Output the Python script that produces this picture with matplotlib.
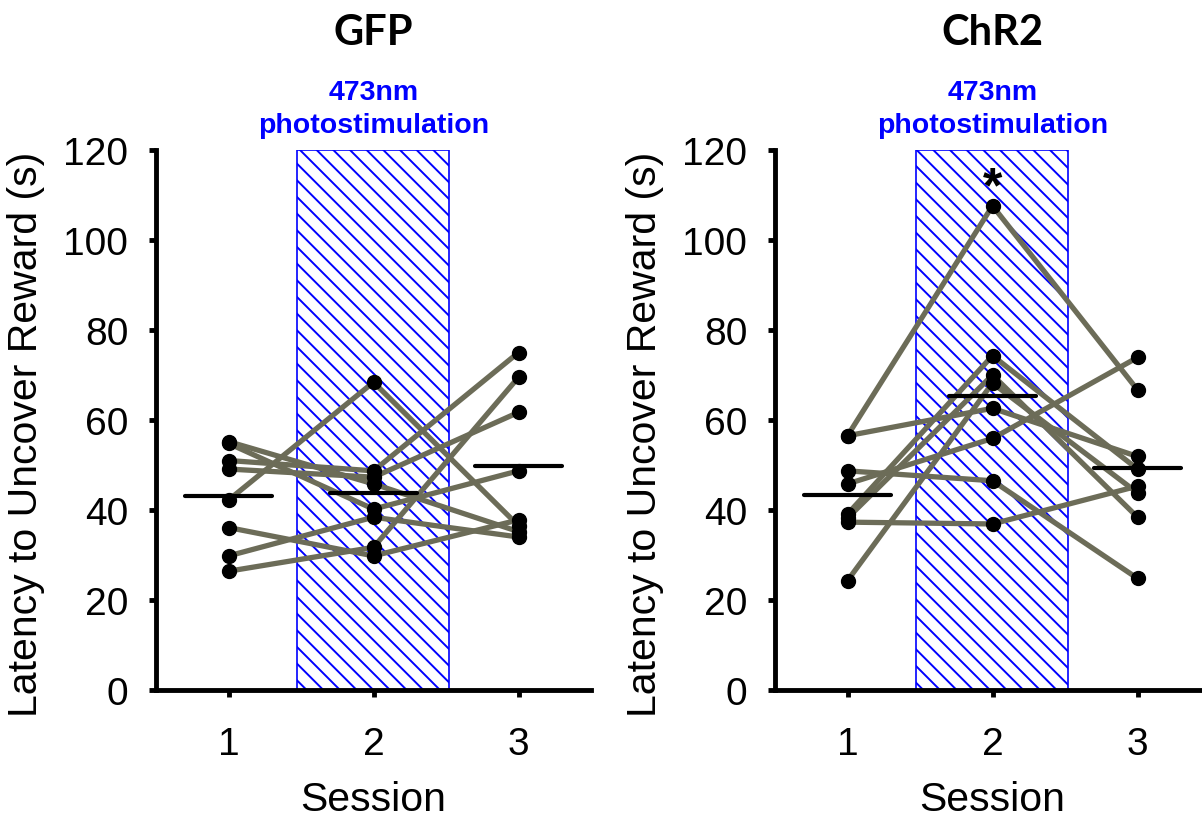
import numpy as np
import matplotlib
matplotlib.use("Agg")
import matplotlib.pyplot as plt

plt.rcParams['font.family'] = ['Liberation Sans', 'DejaVu Sans']
plt.rcParams['hatch.linewidth'] = 1.4

sessions = [1, 2, 3]
session_labels = ["1", "2", "3"]
yticks = [0, 20, 40, 60, 80, 100, 120]

# GFP group: one row per subject, sessions 1..3
gfp_s1 = [42.2, 55.2, 51.0, 49.1, 36.1, 29.8, 26.4, 54.8]
gfp_s2 = [68.4, 45.8, 48.7, 47.3, 29.8, 38.4, 31.7, 40.2]
gfp_s3 = [36.5, 35.2, 75.0, 61.7, 37.8, 34.0, 69.5, 48.7]

# ChR2 group
chr2_s1 = [56.5, 56.5, 48.7, 45.8, 39.1, 38.2, 37.3, 24.3]
chr2_s2 = [107.6, 62.6, 46.5, 55.9, 74.3, 70.0, 36.9, 68.2]
chr2_s3 = [66.7, 51.9, 24.8, 73.9, 49.1, 38.4, 45.3, 43.8]

titles = ["GFP", "ChR2"]
stim_text = ["473nm", "photostimulation"]
ylabel = "Latency to Uncover Reward (s)"
xlabel = "Session"

W, H = 1202, 820
fig = plt.figure(figsize=(W / 100, H / 100), dpi=100)

line_col = "#6c6c58"
groups = [(gfp_s1, gfp_s2, gfp_s3), (chr2_s1, chr2_s2, chr2_s3)]
lefts = [156, 775]

for gi, (s1, s2, s3) in enumerate(groups):
    left = lefts[gi]
    ax = fig.add_axes([left / W, 1 - 691 / H, 435 / W, 540 / H])
    ax.set_xlim(0.5, 3.5)
    ax.set_ylim(0, 120)
    for sp in ['top', 'right']:
        ax.spines[sp].set_visible(False)
    for sp in ['left', 'bottom']:
        ax.spines[sp].set_linewidth(3.5)
    ax.spines['bottom'].set_zorder(1)

    # photostimulation box
    ax.axvspan(1.47, 2.52, ymin=0, ymax=1, facecolor='white', edgecolor='#0000FF',
               hatch='\\\\', linewidth=1.2, zorder=0.5)

    data = np.array([s1, s2, s3])  # shape (3, n)
    for j in range(data.shape[1]):
        ax.plot(sessions, data[:, j], color=line_col, lw=3.8, solid_capstyle='butt', zorder=2)
    for i, x in enumerate(sessions):
        m = np.mean(data[i])
        ax.plot([x - 0.3, x + 0.3], [m, m], color='black', lw=3.0, zorder=3,
                solid_capstyle='round')
        ax.plot([x] * data.shape[1], data[i], 'o', color='black', ms=10, zorder=4)

    ax.set_xticks(sessions)
    ax.set_xticklabels(session_labels)
    ax.set_yticks(yticks)
    ax.tick_params(axis='y', labelsize=28, width=3.5, length=5, pad=15)
    ax.tick_params(axis='x', labelsize=28, width=3.5, length=5, pad=21)

    ax.set_ylabel(ylabel, fontsize=29.5)
    ax.yaxis.set_label_coords(-0.255, 0.475)
    ax.set_xlabel(xlabel, fontsize=29.5)
    ax.xaxis.set_label_coords(0.5, -0.167)

    ax.text(2, 143.6, titles[gi], ha='center', va='baseline', fontsize=30,
            fontweight='bold', family=['Lato', 'DejaVu Sans'], clip_on=False)
    ax.text(2, 131.3, stim_text[0], ha='center', va='baseline', fontsize=20.5,
            fontweight='bold', color='#0000FF', clip_on=False)
    ax.text(2, 124.0, stim_text[1], ha='center', va='baseline', fontsize=20.5,
            fontweight='bold', color='#0000FF', clip_on=False)
    if gi == 1:
        ax.text(2, 108.7, "*", ha='center', va='baseline', fontsize=36,
                fontweight='bold', color='black', zorder=5)

fig.savefig("out.png", dpi=100)
